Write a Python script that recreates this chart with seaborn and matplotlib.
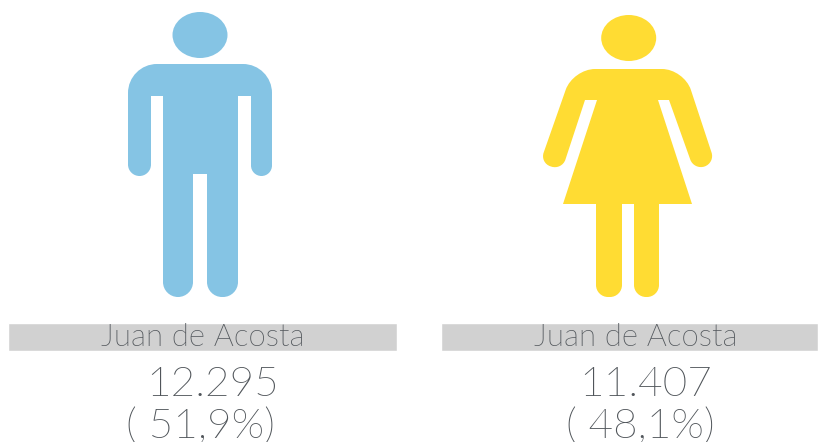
import numpy as np
import pandas as pd
import seaborn as sns
import matplotlib
matplotlib.use("Agg")
import matplotlib.pyplot as plt
from matplotlib.path import Path
from matplotlib.patches import PathPatch, Ellipse
from matplotlib import font_manager as fm

# ---- data ----
groups = ["Hombres", "Mujeres"]
places = ["Juan de Acosta", "Juan de Acosta"]
counts = ["12.295", "11.407"]
shares = ["( 51,9%)", "( 48,1%)"]
colors = ["#85C4E4", "#FFDC33"]
band_color = "#D1D1D1"
text_color = "#50555A"

sns.set_theme(style="white")
plt.rcParams["font.family"] = ["Lato", "DejaVu Sans"]

W, H = 818, 442
fig = plt.figure(figsize=(W / 100, H / 100), dpi=100)
ax = fig.add_axes([0, 0, 1, 1])
ax.set_xlim(0, W)
ax.set_ylim(H, 0)
ax.axis("off")
ax.set_zorder(5)


def rounded(points):
    """Closed path from (x, y, corner radius) triples."""
    k = 0.5523
    n = len(points)
    verts, codes = [], []
    for i in range(n):
        p = np.array(points[i][:2], float)
        r = points[i][2]
        a = np.array(points[i - 1][:2], float)
        b = np.array(points[(i + 1) % n][:2], float)
        ua = (a - p) / np.linalg.norm(a - p)
        ub = (b - p) / np.linalg.norm(b - p)
        s = p + ua * r
        e = p + ub * r
        verts.append(s)
        codes.append(Path.MOVETO if i == 0 else Path.LINETO)
        if r > 0:
            verts += [s + (p - s) * k, e + (p - e) * k, e]
            codes += [Path.CURVE4] * 3
    verts.append(verts[0])
    codes.append(Path.CLOSEPOLY)
    return Path(verts, codes)


man = [(128, 64, 29), (272, 64, 29), (272, 176, 10.5), (251, 176, 10.5), (251, 96, 0),
       (238, 96, 0), (238, 297, 15), (207, 297, 15), (207, 174, 0), (193, 174, 0),
       (193, 297, 15), (163, 297, 15), (163, 96, 0), (151, 96, 0), (151, 176, 11.5),
       (128, 176, 11.5)]
woman = [(573, 69, 22), (684, 69, 22), (715, 163, 11), (694, 170, 11), (669, 100, 0),
         (658, 100, 0), (692, 204, 0), (659, 204, 0), (659, 297, 12), (634, 297, 12),
         (634, 204, 0), (622, 204, 0), (622, 297, 12), (596, 297, 12), (596, 204, 0),
         (563, 204, 0), (597, 100, 0), (585, 100, 0), (562, 170, 11), (540, 163, 11)]

ax.add_patch(Ellipse((200, 35), 55, 46, color=colors[0], lw=0))
ax.add_patch(PathPatch(rounded(man), color=colors[0], lw=0))
ax.add_patch(Ellipse((628.7, 38), 55, 46, color=colors[1], lw=0))
ax.add_patch(PathPatch(rounded(woman), color=colors[1], lw=0))

# label bands, drawn as full-width seaborn bars in their own small axes
bands = [(8, 396.5), (441, 818)]
for (x0, x1), place in zip(bands, places):
    bax = fig.add_axes([x0 / W, 1 - 351 / H, (x1 - x0) / W, 28 / H])
    sns.barplot(data=pd.DataFrame({"place": [place], "span": [1]}), x="span", y="place",
                width=1, color=band_color, saturation=1, ax=bax)
    bax.set_xlim(0, 1)
    bax.axis("off")

# pick the lightest Lato cut that is not a hairline
lato = [f for f in fm.fontManager.ttflist if f.name == "Lato" and f.style == "normal"]
light = [f for f in lato if "Light" in f.fname and "Hairline" not in f.fname]
fp = {"fname": light[0].fname} if light else {"family": "Lato"}

centers = [202.5, 636]
num_centers = [212.5, 646]
pct_centers = [201, 640]
for i in range(2):
    ax.text(centers[i], 338, places[i], ha="center", va="center",
            fontproperties=fm.FontProperties(size=22.5, **fp), color=text_color)
    ax.text(num_centers[i], 385, counts[i], ha="center", va="center",
            fontproperties=fm.FontProperties(size=30.5, **fp), color=text_color)
    ax.text(pct_centers[i], 426, shares[i], ha="center", va="center",
            fontproperties=fm.FontProperties(size=30.5, **fp), color=text_color)

fig.savefig("out.png", dpi=100)
